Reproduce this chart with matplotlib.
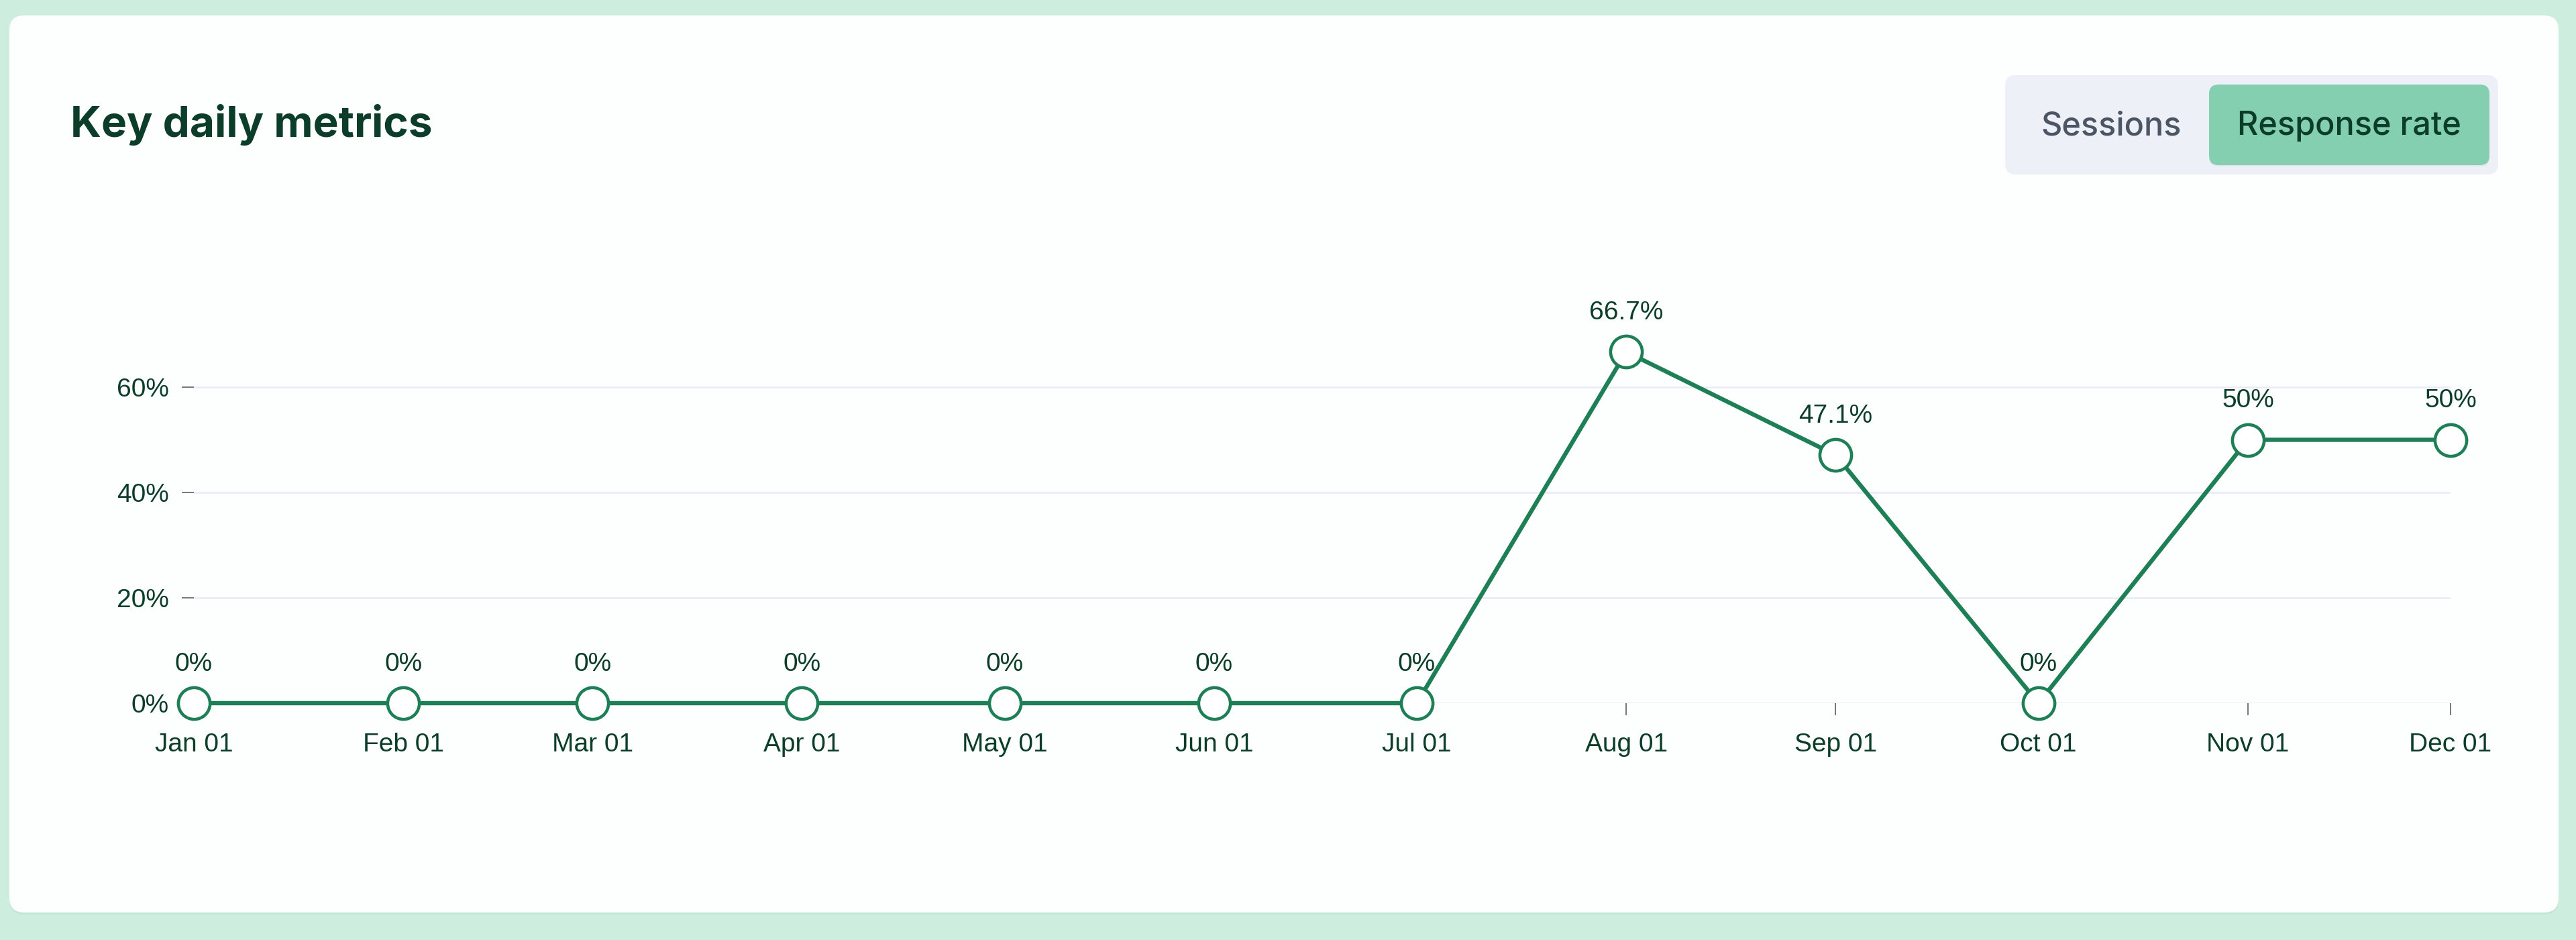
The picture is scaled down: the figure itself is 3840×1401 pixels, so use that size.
import matplotlib
matplotlib.use("Agg")
import matplotlib.pyplot as plt
import matplotlib.dates as mdates
from matplotlib.patches import FancyBboxPatch
from matplotlib.ticker import FuncFormatter
import datetime as dt

# ---- data ----
months = ["2023-01-01", "2023-02-01", "2023-03-01", "2023-04-01", "2023-05-01", "2023-06-01",
          "2023-07-01", "2023-08-01", "2023-09-01", "2023-10-01", "2023-11-01", "2023-12-01"]
response_rate = [0, 0, 0, 0, 0, 0, 0, 66.7, 47.1, 0, 50, 50]
y_ticks = [0, 20, 40, 60]
title = "Key daily metrics"
toggle_labels = ["Sessions", "Response rate"]

dates = [dt.datetime.strptime(m, "%Y-%m-%d") for m in months]

W, H = 3840, 1401
fig = plt.figure(figsize=(W / 100, H / 100), dpi=100)
fig.patch.set_facecolor("#CDEEDF")

# background / card layer in pixel units
bg = fig.add_axes([0, 0, 1, 1])
bg.set_xlim(0, W)
bg.set_ylim(H, 0)
bg.axis("off")
# subtle shadow
bg.add_patch(FancyBboxPatch((14, 25), 3800, 1338, boxstyle="round,pad=0,rounding_size=22",
                            fc="#C3E6D6", ec="none", zorder=0))
bg.add_patch(FancyBboxPatch((14, 23), 3800, 1337, boxstyle="round,pad=0,rounding_size=22",
                            fc="#FDFEFE", ec="none", zorder=1))
bg.text(105, 186, title, fontsize=46, fontweight="bold", color="#0B3D2A",
        family=["Inter", "DejaVu Sans"], ha="left", va="center", zorder=3)

# toggle group
bg.add_patch(FancyBboxPatch((2989, 112), 735, 148, boxstyle="round,pad=0,rounding_size=16",
                            fc="#EEF0F8", ec="none", zorder=2))
bg.add_patch(FancyBboxPatch((3293, 128), 418, 120, boxstyle="round,pad=0,rounding_size=14",
                            fc="#E2E4EC", ec="none", zorder=2))
bg.add_patch(FancyBboxPatch((3293, 126), 418, 120, boxstyle="round,pad=0,rounding_size=14",
                            fc="#84CFB0", ec="none", zorder=3))
bg.text(3147, 188, toggle_labels[0], fontsize=35, color="#4B5563",
        family=["Inter", "DejaVu Sans"], fontweight="medium", ha="center", va="center", zorder=4)
bg.text(3502, 188, toggle_labels[1], fontsize=35, color="#0B3D2A",
        family=["Inter", "DejaVu Sans"], fontweight="medium", ha="center", va="center", zorder=4)

# main chart
left = 289 / W
right = 3653 / W
bottom = (H - 1048) / H
top_px = 1048 - 3.5 * 157
ax = fig.add_axes([left, bottom, right - left, (1048 - top_px) / H])
ax.set_facecolor("none")
for s in ax.spines.values():
    s.set_visible(False)

line_color = "#1E7F57"
text_color = "#0B3D2A"
font = ["Liberation Sans", "DejaVu Sans"]

ax.plot(dates, response_rate, color=line_color, lw=4.6, zorder=3, clip_on=False,
        marker="o", markersize=34, markerfacecolor="white", markeredgecolor=line_color,
        markeredgewidth=3.3)

for d, v in zip(dates, response_rate):
    lab = f"{v:g}%"
    ax.annotate(lab, (d, v), xytext=(0, 42), textcoords="offset points",
                ha="center", va="center", fontsize=28, color=text_color,
                family=font, zorder=5, annotation_clip=False)

ax.set_xlim(dates[0], dates[-1])
ax.set_ylim(0, 70)
ax.set_yticks(y_ticks)
ax.yaxis.set_major_formatter(FuncFormatter(lambda v, p: f"{v:g}%"))
ax.set_xticks(dates)
ax.xaxis.set_major_formatter(mdates.DateFormatter("%b %d"))
ax.grid(axis="y", color="#EAEBF4", lw=1.8, zorder=0)
ax.set_axisbelow(True)
ax.tick_params(axis="both", length=13, width=1.4, color="#777777",
               labelsize=28, labelcolor=text_color)
ax.tick_params(axis="y", pad=14)
ax.tick_params(axis="x", pad=19)
for lbl in ax.get_xticklabels() + ax.get_yticklabels():
    lbl.set_family(font)

fig.savefig("out.png", dpi=100, facecolor=fig.get_facecolor())
